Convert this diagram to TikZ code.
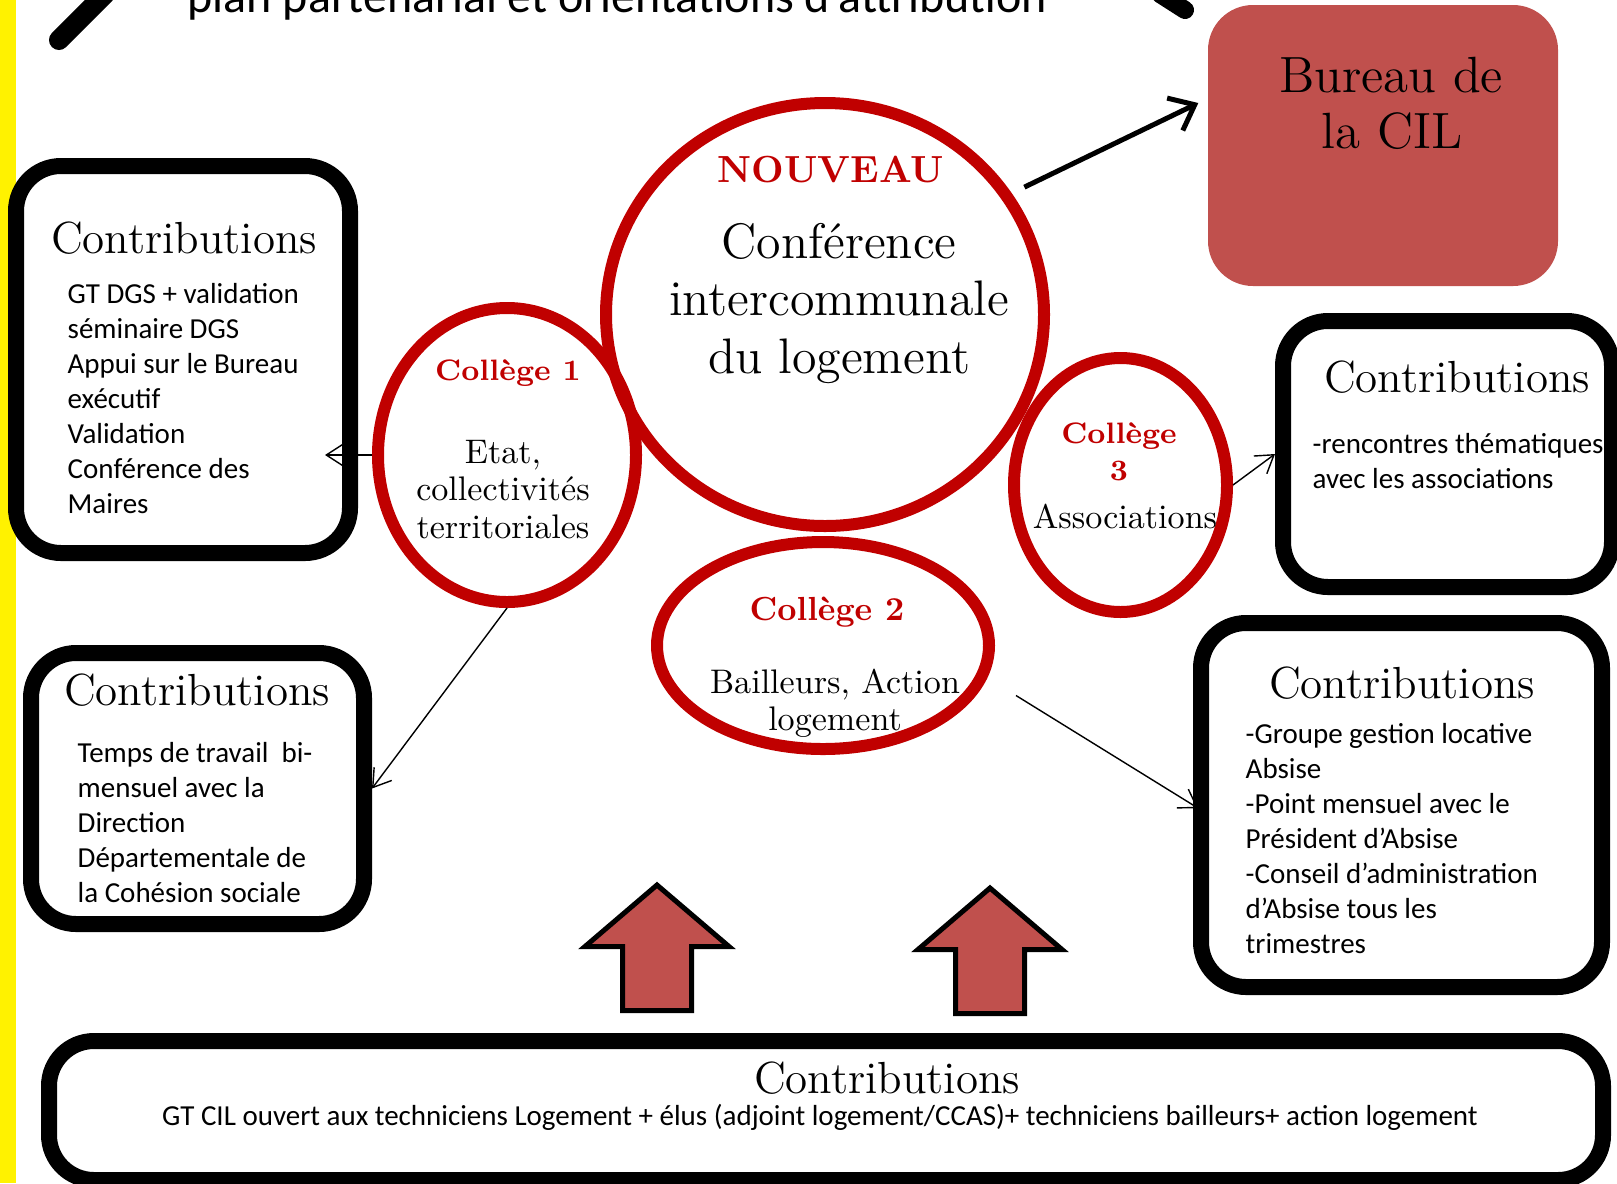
\documentclass[tikz,border=0pt]{standalone}
\usepackage{fontspec}
\newfontfamily\calib{Carlito}
\usetikzlibrary{shapes.geometric,arrows.meta,positioning,calc}
\definecolor{cilred}{RGB}{192,0,0}
\definecolor{bureaucolor}{RGB}{192,80,77}
\definecolor{barcolor}{RGB}{255,242,0}

\begin{document}
\begin{tikzpicture}[
    contrib/.style={rectangle, draw, line width=0.16cm, rounded corners=0.45cm, fill=white, inner sep=0},
    college/.style={ellipse, draw=cilred, line width=0.12cm, inner sep=0},
    heading/.style={inner sep=0, anchor=base, font=\fontsize{12.8}{15}\selectfont},
    item/.style={inner sep=0, anchor=base west, font=\calib\fontsize{8.25}{10}\selectfont},
    redlabel/.style={inner sep=0, anchor=base, text=cilred, font=\bfseries\fontsize{8.4}{10}\selectfont},
    body/.style={inner sep=0, anchor=base, font=\fontsize{9.7}{11}\selectfont},
    link/.style={-{Straight Barb[length=1.7mm,width=2.2mm]}, thin},
    uparrow/.style={draw, line width=0.05cm, fill=bureaucolor},
]
    \useasboundingbox (0,0) rectangle (16.17,-11.83);

    % Yellow side bar
    \fill[barcolor] (0,0) rectangle (0.165,-11.83);

    % Title, cut by the page edge
    \draw[line width=0.2cm, line cap=round] (0.59,-0.40) -- (1.05,0.06);
    \draw[line width=0.18cm, line cap=round] (11.60,0.06) -- (11.85,-0.10);
    \node[inner sep=0, anchor=base west, font=\calib\fontsize{13.65}{16}\selectfont] (title) at (1.87,-0.12) {plan partenarial et orientations d’attribution};

    % Contribution boxes
    \node[contrib, minimum width=3.34cm, minimum height=3.87cm] (boxA) at (1.83,-3.595) {};
    \node[contrib, minimum width=3.33cm, minimum height=2.71cm] (boxB) at (1.975,-7.885) {};
    \node[contrib, minimum width=3.29cm, minimum height=2.66cm] (boxC) at (14.475,-4.54) {};
    \node[contrib, minimum width=4.01cm, minimum height=3.64cm] (boxD) at (14.015,-8.05) {};
    \node[contrib, minimum width=15.54cm, minimum height=1.39cm] (boxE) at (8.26,-11.105) {};

    \node[heading] (headA) at (1.84,-2.53) {Contributions};
    \foreach \t [count=\i] in {GT DGS + validation, séminaire DGS, Appui sur le Bureau, exécutif, Validation, Conférence des, Maires}
        \node[item] (lineA\i) at (0.67,{-3.03-0.35*(\i-1)}) {\t};

    \node[heading] (headB) at (1.97,-7.05) {Contributions};
    \foreach \t [count=\i] in {Temps de travail\ \ bi-, mensuel avec la, Direction, Départementale de, la Cohésion sociale}
        \node[item] (lineB\i) at (0.77,{-7.62-0.35*(\i-1)}) {\t};

    \node[heading] (headC) at (14.57,-3.92) {Contributions};
    \foreach \t [count=\i] in {-rencontres thématiques, avec les associations}
        \node[item] (lineC\i) at (13.12,{-4.53-0.35*(\i-1)}) {\t};

    \node[heading] (headD) at (14.02,-6.98) {Contributions};
    \foreach \t [count=\i] in {-Groupe gestion locative, Absise, -Point mensuel avec le, Président d’Absise, -Conseil d’administration, d’Absise tous les, trimestres}
        \node[item] (lineD\i) at (12.45,{-7.43-0.35*(\i-1)}) {\t};

    \node[heading] (headE) at (8.87,-10.93) {Contributions};
    \node[item, anchor=base] (lineE) at (8.20,-11.25) {GT CIL ouvert aux techniciens Logement + élus (adjoint logement/CCAS)+ techniciens bailleurs+ action logement};

    % Bureau
    \node[rectangle, rounded corners=0.45cm, fill=bureaucolor, minimum width=3.5cm, minimum height=2.81cm, inner sep=0] (bureau) at (13.83,-1.455) {};
    \node[inner sep=0, anchor=base, font=\fontsize{14.5}{17}\selectfont] (bureautop) at (13.91,-0.92) {Bureau de};
    \node[inner sep=0, anchor=base, font=\fontsize{14.5}{17}\selectfont] (bureaubot) at (13.92,-1.48) {la CIL};

    % Conference and colleges
    \node[college, minimum width=4.38cm, minimum height=4.23cm] (conf) at (8.25,-3.145) {};
    \node[college, minimum width=2.58cm, minimum height=2.94cm] (c1) at (5.07,-4.55) {};
    \node[college, minimum width=2.13cm, minimum height=2.54cm] (c3) at (11.205,-4.85) {};
    \node[college, minimum width=3.32cm, minimum height=2.07cm] (c2) at (8.23,-6.455) {};

    \node[redlabel, font=\bfseries\fontsize{10.75}{13}\selectfont] (nouveau) at (8.31,-1.82) {NOUVEAU};
    \foreach \t [count=\i] in {Conférence, intercommunale, du logement}
        \node[body, font=\fontsize{14.2}{17}\selectfont] (confline\i) at (8.39,{-2.58-0.575*(\i-1)}) {\t};

    \node[redlabel] (c1title) at (5.08,-3.80) {Collège 1};
    \foreach \t [count=\i] in {{Etat,}, collectivités, territoriales}
        \node[body] (c1line\i) at (5.03,{-4.63-0.375*(\i-1)}) {\t};

    \node[redlabel] (c3title) at (11.19,-4.43) {Collège};
    \node[redlabel] (c3num) at (11.19,-4.80) {3};
    \node[body] (c3line) at (11.25,-5.28) {Associations};

    \node[redlabel, font=\bfseries\fontsize{9.5}{11}\selectfont] (c2title) at (8.27,-6.20) {Collège 2};
    \node[body] (c2line1) at (8.35,-6.93) {Bailleurs, Action};
    \node[body] (c2line2) at (8.35,-7.30) {logement};

    % Connectors
    \draw[link, shorten >=-0.33cm] (c1.west) -- (boxA.east |- c1.west);
    \draw[link] (c1.south) -- (boxB.east);
    \draw[link] (c3.east) -- (boxC.west);
    \draw[link, shorten >=-0.06cm] ($(c2.east)+(0.21,-0.5)$) -- (boxD.west);
    \draw[-{Straight Barb[length=2.2mm,width=3.6mm]}, line width=0.05cm, shorten <=0.14cm] (conf.33) -- ($(bureau.west)+(-0.09,0.425)$);

    % Big arrows up
    \foreach \ax/\ay in {6.57/-8.85, 9.90/-8.88}
        \draw[uparrow] (\ax,\ay) -- ++(0.72,-0.615) -- ++(-0.375,0) -- ++(0,-0.64) -- ++(-0.69,0) -- ++(0,0.64) -- ++(-0.375,0) -- cycle;
\end{tikzpicture}
\end{document}
